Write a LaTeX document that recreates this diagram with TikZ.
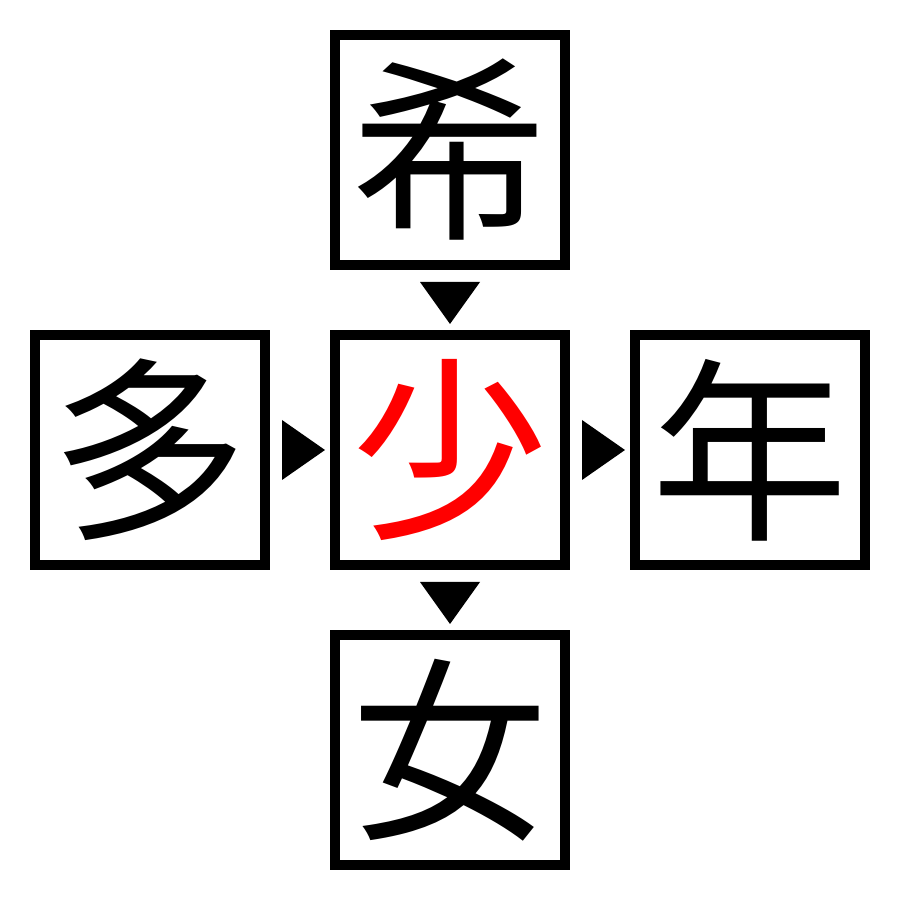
\documentclass[tikz,border=0pt]{standalone}
\usepackage{fontspec}
\newfontfamily\cjk{Noto Sans CJK JP}
\begin{document}
\begin{tikzpicture}[
  kbox/.style={draw, line width=1mm, minimum size=2.3cm, inner sep=0pt,
    font=\cjk\fontsize{56}{56}\selectfont}]

\useasboundingbox (0,0) rectangle (9,9);

\node[kbox] (ki)  at (4.5,7.5) {希};
\node[kbox] (ta)  at (1.5,4.5) {多};
\node[kbox, text=red] (sho) at (4.5,4.5) {少};
\node[kbox] (nen) at (7.5,4.5) {年};
\node[kbox] (jo)  at (4.5,1.5) {女};

% down markers
\fill ([xshift=-0.3cm, yshift=-0.12cm]ki.south) -- ++(0.6,0) -- ++(-0.3,-0.42) -- cycle;
\fill ([xshift=-0.3cm, yshift=-0.12cm]sho.south) -- ++(0.6,0) -- ++(-0.3,-0.42) -- cycle;

% right markers
\fill ([xshift=0.12cm, yshift=0.3cm]ta.east) -- ++(0,-0.6) -- ++(0.43,0.3) -- cycle;
\fill ([xshift=0.12cm, yshift=0.3cm]sho.east) -- ++(0,-0.6) -- ++(0.43,0.3) -- cycle;

\end{tikzpicture}
\end{document}
